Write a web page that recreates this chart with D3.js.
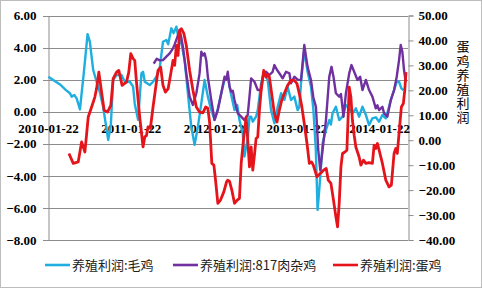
<!DOCTYPE html>
<html>
<head>
<meta charset="utf-8">
<script src="https://cdn.jsdelivr.net/npm/d3@7"></script>
<style>
  body { margin: 0; background: #fff; }
  svg { display: block; }
</style>
</head>
<body>
<div id="chart"></div>
<script>
// time is in years counted from 2010-01-22
var xTicks = [0, 1, 2, 3, 4];
var xTickLabels = ["2010-01-22", "2011-01-22", "2012-01-22", "2013-01-22", "2014-01-22"];
var leftTicks = [6, 4, 2, 0, -2, -4, -6, -8];
var rightTicks = [50, 40, 30, 20, 10, 0, -10, -20, -30, -40];
var seriesNames = ["养殖利润:毛鸡", "养殖利润:817肉杂鸡", "养殖利润:蛋鸡"];
var rightTitle = "蛋鸡养殖利润";

// 养殖利润:毛鸡 (left axis)
var maoJi = [
  [0.004, 2.18], [0.145, 1.7], [0.217, 1.35], [0.265, 1.15], [0.286, 0.94], [0.317, 1.04],
  [0.346, 0.83], [0.386, 0.15], [0.434, 2.5], [0.478, 4.84], [0.506, 4.36], [0.546, 2.6],
  [0.587, 1.87], [0.627, 1.2], [0.666, 0.31], [0.699, -0.8], [0.727, -1.76], [0.759, -0.83],
  [0.787, 1.98], [0.828, 2.29], [0.888, 2.29], [0.928, 1.87], [0.988, 1.87], [1.028, 1.56],
  [1.048, 0.5], [1.088, -0.5], [1.129, 2.39], [1.148, 2.49], [1.169, 1.87], [1.229, 1.66],
  [1.269, 1.87], [1.31, 2.18], [1.349, 2.7], [1.389, 4.36], [1.43, 4.47], [1.452, 4.2],
  [1.49, 5.2], [1.518, 4.9], [1.551, 5.3], [1.572, 4.7], [1.614, 4.2], [1.651, 3.2],
  [1.69, 1.15], [1.731, -0.93], [1.771, -2.07], [1.811, -0.93], [1.852, 0.52], [1.892, 1.98],
  [1.931, 0.94], [1.972, 0.1], [2.012, -0.5], [2.052, 0.2], [2.112, 1.56], [2.133, 1.98],
  [2.172, 2.18], [2.205, 1.25], [2.253, 0.1], [2.286, 0.42], [2.313, -0.52], [2.353, -1.35],
  [2.373, -2.79], [2.394, -2.17], [2.413, -1.76], [2.434, -0.31], [2.454, -0.31], [2.474, -0.62],
  [2.514, -0.31], [2.534, 0.1], [2.575, 1.77], [2.614, 2.39], [2.635, 2.2], [2.654, 1.98],
  [2.695, 0.1], [2.735, -0.72], [2.775, 0.31], [2.816, 1.15], [2.855, 0.73], [2.895, 1.56],
  [2.936, 0.73], [2.976, 0.94], [3.016, 0.1], [3.036, 0.3], [3.06, 2.0], [3.096, 3.85],
  [3.136, 2.49], [3.177, 1.56], [3.205, 0.2], [3.235, -2.3], [3.257, -6.13], [3.277, -4.88],
  [3.298, -3.43], [3.317, -1.97], [3.358, -1.14], [3.398, -0.52], [3.418, -0.8], [3.437, -0.1],
  [3.478, 0.31], [3.518, -0.52], [3.558, -0.31], [3.599, 0.42], [3.639, 0.2], [3.678, -0.1],
  [3.719, 0.21], [3.759, -0.31], [3.799, 0.31], [3.84, -0.2], [3.879, -0.83], [3.919, -0.41],
  [3.96, -0.35], [4.0, -0.62], [4.04, -0.2], [4.081, -0.41], [4.12, 0.31], [4.148, 0.83],
  [4.181, 1.35], [4.213, 1.87], [4.241, 1.87], [4.269, 1.46], [4.293, 1.35]
];

// 养殖利润:817肉杂鸡 (left axis)
var rouZaJi = [
  [1.277, 3.0], [1.313, 3.3], [1.349, 3.2], [1.389, 3.22], [1.43, 3.43], [1.47, 3.64],
  [1.51, 3.95], [1.53, 4.2], [1.571, 4.78], [1.59, 5.1], [1.611, 4.6], [1.63, 4.05],
  [1.671, 2.39], [1.711, 0.94], [1.751, 0.42], [1.792, 1.15], [1.831, 2.39], [1.852, 3.74],
  [1.871, 3.5], [1.892, 3.64], [1.912, 3.2], [1.931, 2.18], [1.972, 0.73], [2.012, -0.52],
  [2.052, 0.1], [2.093, 1.15], [2.133, 2.18], [2.153, 2.0], [2.172, 2.49], [2.193, 1.56],
  [2.213, 1.25], [2.233, 1.3], [2.253, 0.73], [2.293, -0.1], [2.334, -0.31], [2.373, -0.52],
  [2.413, -0.2], [2.434, 0.94], [2.454, 2.08], [2.494, 1.87], [2.534, 1.35], [2.575, 1.35],
  [2.594, 2.18], [2.635, 2.49], [2.675, 2.29], [2.714, 2.49], [2.735, 2.91], [2.767, 2.6],
  [2.795, 2.4], [2.835, 2.08], [2.876, 2.49], [2.916, 2.4], [2.936, 1.77], [2.976, 2.18],
  [3.016, 2.0], [3.057, 1.98], [3.096, 4.16], [3.136, 2.8], [3.177, 1.98], [3.205, 0.9],
  [3.237, 0.3], [3.265, -2.39], [3.289, -3.63], [3.317, -2.39], [3.358, -0.52], [3.398, 2.18],
  [3.425, 2.8], [3.449, 2.18], [3.478, 1.15], [3.518, 0.94], [3.539, 1.1], [3.57, -0.31],
  [3.599, 1.15], [3.639, 2.39], [3.666, 2.91], [3.699, 2.49], [3.739, 1.98], [3.771, 2.18],
  [3.799, 1.35], [3.84, 1.98], [3.879, 1.35], [3.919, 0.94], [3.96, 0.21], [3.98, 0.4],
  [4.0, 0.1], [4.04, 0.31], [4.06, -0.1], [4.1, -0.31], [4.141, 0.73], [4.181, 1.35],
  [4.213, 2.18], [4.241, 3.22], [4.261, 4.16], [4.281, 3.74], [4.301, 2.6], [4.322, 1.87]
];

// 养殖利润:蛋鸡 (right axis)
var danJi = [
  [0.253, -5.3], [0.305, -9.3], [0.365, -8.7], [0.406, -0.7], [0.446, -4.7], [0.486, 9.3],
  [0.527, 13.3], [0.566, 17.3], [0.587, 20.7], [0.614, 27.3], [0.639, 21.3], [0.678, 12],
  [0.719, 11.3], [0.759, 14], [0.787, 24.7], [0.828, 27.3], [0.855, 28], [0.895, 22],
  [0.948, 23.3], [0.976, 27.3], [1.0, 34.7], [1.028, 32.7], [1.048, 32], [1.069, 23.3],
  [1.108, 9.3], [1.148, -2.7], [1.169, 1.3], [1.189, 1.8], [1.208, 5.3], [1.237, 4.8],
  [1.269, 13.3], [1.31, 23.3], [1.329, 28], [1.361, 29.3], [1.389, 22], [1.418, 19.3],
  [1.452, 20.7], [1.49, 28], [1.51, 32], [1.53, 30], [1.551, 38], [1.571, 34],
  [1.59, 44], [1.611, 44.7], [1.642, 42.7], [1.671, 38], [1.711, 28], [1.751, 20],
  [1.792, 13.3], [1.831, 11.3], [1.871, 11], [1.904, 13.3], [1.931, 12.8], [1.952, 7.3],
  [1.979, -9.3], [2.004, -10], [2.024, -16], [2.052, -25.3], [2.084, -24], [2.124, -20.7],
  [2.157, -16.7], [2.172, -16], [2.193, -16.5], [2.221, -20], [2.253, -25.3], [2.286, -24],
  [2.313, -23.3], [2.334, -9.3], [2.365, 1.3], [2.394, 9.3], [2.413, 0], [2.434, -10.7],
  [2.454, -2.7], [2.474, -12], [2.494, -6], [2.514, 0.7], [2.534, 1.3], [2.554, 12],
  [2.575, 20], [2.606, 28], [2.635, 25.3], [2.654, 26.5], [2.675, 25.3], [2.702, 18.7],
  [2.735, 10.7], [2.767, 7.3], [2.795, 12], [2.823, 16], [2.855, 18.7], [2.895, 22],
  [2.936, 24], [2.976, 24], [3.008, 22.7], [3.036, 18.7], [3.064, 14], [3.096, 6.7],
  [3.129, -1.3], [3.157, -9.3], [3.184, -8.7], [3.205, -10], [3.249, -14.7], [3.289, -13.3],
  [3.329, -12], [3.361, -11.3], [3.386, -16], [3.418, -17.3], [3.449, -24], [3.478, -30.7],
  [3.498, -34.7], [3.518, -25.3], [3.539, -10.7], [3.558, -5.3], [3.587, -4.7], [3.611, -4],
  [3.639, 21.3], [3.659, 17.3], [3.678, 8], [3.699, 2], [3.719, -2.7], [3.759, -6.7],
  [3.78, -10], [3.811, -8], [3.84, -9.3], [3.879, -9], [3.919, -9.3], [3.94, -2],
  [3.96, -3.3], [3.98, -1.3], [4.0, -4], [4.04, -9.3], [4.081, -16], [4.12, -18.7],
  [4.148, -18], [4.181, -5.3], [4.201, -3.3], [4.22, -5.3], [4.241, 2.7], [4.269, 13.3],
  [4.293, 14.7], [4.31, 20], [4.325, 27.3]
];

var colors = ["#1eaee0", "#7030a0", "#e5141b"];

var W = 482, H = 289;
var plotLeft = 48, plotRight = 408, plotTop = 15.5, plotBottom = 240;

var svg = d3.select("#chart").append("svg").attr("width", W).attr("height", H);

svg.append("rect")
  .attr("x", 0.5).attr("y", 0.5)
  .attr("width", W - 1).attr("height", H - 2)
  .attr("fill", "#fff")
  .attr("stroke", "#bdbdbd");

var x = d3.scaleLinear().domain([0, 4.325]).range([plotLeft, 406]);
var yL = d3.scaleLinear().domain([-8, 6]).range([plotBottom, plotTop]);
var yR = d3.scaleLinear().domain([-40, 50]).range([plotBottom, plotTop]);

// gridlines
svg.append("g")
  .selectAll("line")
  .data(leftTicks)
  .enter()
  .append("line")
  .attr("x1", plotLeft - 5)
  .attr("x2", plotRight)
  .attr("y1", function (d) { return Math.round(yL(d)) + 0.5; })
  .attr("y2", function (d) { return Math.round(yL(d)) + 0.5; })
  .attr("stroke", "#8c8c8c")
  .attr("stroke-width", 1);

// left axis
var gl = svg.append("g")
  .attr("transform", "translate(" + (plotLeft + 0.5) + ",0)")
  .call(d3.axisLeft(yL).tickValues(leftTicks).tickSize(0).tickPadding(12)
    .tickFormat(d3.format(".2f")));
gl.select(".domain").attr("stroke", "#8c8c8c");
gl.selectAll("text")
  .style("font-family", "'Liberation Serif', serif")
  .style("font-weight", "bold")
  .style("font-size", "13px")
  .attr("fill", "#000");

// right axis
var gr = svg.append("g")
  .attr("transform", "translate(" + (plotRight + 0.5) + ",0)")
  .call(d3.axisRight(yR).tickValues(rightTicks).tickSize(5).tickPadding(5)
    .tickFormat(d3.format(".2f")));
gr.select(".domain").attr("stroke", "#8c8c8c");
gr.selectAll(".tick line").attr("stroke", "#8c8c8c");
gr.selectAll("text")
  .style("font-family", "'Liberation Serif', serif")
  .style("font-weight", "bold")
  .style("font-size", "13px")
  .attr("fill", "#000");

// x axis, crossing at 0
var gx = svg.append("g")
  .attr("transform", "translate(0," + (Math.round(yL(0)) + 0.5) + ")")
  .call(d3.axisBottom(x).tickValues(xTicks).tickSize(0).tickPadding(11)
    .tickFormat(function (d, i) { return xTickLabels[i]; }));
gx.select(".domain").remove();
gx.selectAll("text")
  .style("font-family", "'Liberation Serif', serif")
  .style("font-weight", "bold")
  .style("font-size", "13px")
  .attr("fill", "#000");

// right title, upright vertical text
svg.append("text")
  .attr("x", 463)
  .attr("y", 40)
  .style("writing-mode", "vertical-rl")
  .style("text-orientation", "upright")
  .style("letter-spacing", "1.2px")
  .style("font-family", "'Noto Sans CJK SC', sans-serif")
  .style("font-size", "13px")
  .attr("fill", "#000")
  .text(rightTitle);

// lines
var lineL = d3.line()
  .x(function (d) { return x(d[0]); })
  .y(function (d) { return yL(d[1]); });
var lineR = d3.line()
  .x(function (d) { return x(d[0]); })
  .y(function (d) { return yR(d[1]); });

var series = [
  { data: maoJi, line: lineL, w: 2.4 },
  { data: rouZaJi, line: lineL, w: 2.4 },
  { data: danJi, line: lineR, w: 2.8 }
];

svg.append("g")
  .selectAll("path")
  .data(series)
  .enter()
  .append("path")
  .attr("d", function (d) { return d.line(d.data); })
  .attr("fill", "none")
  .attr("stroke", function (d, i) { return colors[i]; })
  .attr("stroke-width", function (d) { return d.w; })
  .attr("stroke-linejoin", "round");

// legend
var legendX = [45, 173, 333];
var lg = svg.append("g")
  .selectAll("g")
  .data(seriesNames)
  .enter()
  .append("g")
  .attr("transform", function (d, i) { return "translate(" + legendX[i] + ",265)"; });
lg.append("line")
  .attr("x1", 0).attr("x2", 25)
  .attr("y1", 0).attr("y2", 0)
  .attr("stroke", function (d, i) { return colors[i]; })
  .attr("stroke-width", 2.6);
lg.append("text")
  .attr("x", 27)
  .attr("y", 5)
  .style("font-family", "'Noto Sans CJK SC', sans-serif")
  .style("font-size", "13px")
  .attr("fill", "#222")
  .text(function (d) { return d; });
</script>
</body>
</html>
